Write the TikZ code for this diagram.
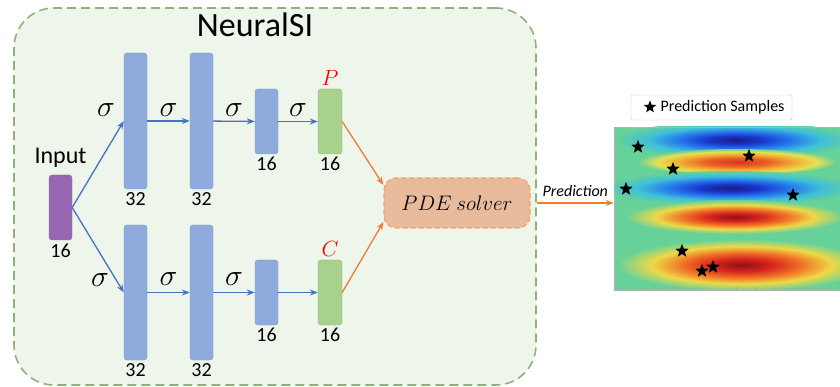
\RequirePackage{fix-cm}
\documentclass[tikz,border=0pt]{standalone}
\usepackage{fontspec}
\setmainfont{Carlito}
\usetikzlibrary{positioning,shapes.geometric,arrows.meta}

\definecolor{framegreen}{HTML}{8FB27A}
\definecolor{framefill}{HTML}{EEF5EA}
\definecolor{layerblue}{HTML}{8FAADC}
\definecolor{layerline}{HTML}{7A97CB}
\definecolor{outgreen}{HTML}{A9D18E}
\definecolor{outline}{HTML}{8DB872}
\definecolor{inpurple}{HTML}{9467B0}
\definecolor{arrblue}{HTML}{4472C4}
\definecolor{arrorange}{HTML}{ED7D31}
\definecolor{pdefill}{HTML}{E8BB9C}
\definecolor{pdeline}{HTML}{F4A062}
\definecolor{heatbg}{rgb}{0.40,0.82,0.60}

\pgfdeclareradialshading{redband}{\pgfpoint{0bp}{0bp}}{rgb(0bp)=(0.55,0.07,0.07); rgb(6bp)=(0.84,0.14,0.12); rgb(12bp)=(0.94,0.45,0.15); rgb(18bp)=(0.93,0.85,0.28); rgb(25bp)=(0.40,0.82,0.60); rgb(50bp)=(0.40,0.82,0.60)}
\pgfdeclareradialshading{orangeband}{\pgfpoint{0bp}{0bp}}{rgb(0bp)=(0.85,0.20,0.12); rgb(8bp)=(0.92,0.38,0.14); rgb(15bp)=(0.94,0.70,0.22); rgb(20bp)=(0.90,0.88,0.32); rgb(25bp)=(0.40,0.82,0.60); rgb(50bp)=(0.40,0.82,0.60)}
\pgfdeclareradialshading{blueband}{\pgfpoint{0bp}{0bp}}{rgb(0bp)=(0.12,0.10,0.50); rgb(6bp)=(0.10,0.22,0.80); rgb(12bp)=(0.15,0.48,0.92); rgb(18bp)=(0.25,0.75,0.85); rgb(25bp)=(0.40,0.82,0.60); rgb(50bp)=(0.40,0.82,0.60)}

\begin{document}
\begin{tikzpicture}[x=1pt,y=-1pt,
    frame/.style={draw=framegreen, fill=framefill, line width=1.6pt, dash pattern=on 9pt off 5pt, rounded corners=40pt, minimum width=522pt, minimum height=377pt},
    layer/.style={draw=layerline, fill=layerblue, rounded corners=3pt, minimum width=23pt, inner sep=0pt},
    outlayer/.style={draw=outline, fill=outgreen, rounded corners=3pt, minimum width=24pt, minimum height=65pt, inner sep=0pt},
    inlayer/.style={draw=inpurple, fill=inpurple, rounded corners=3pt, minimum width=23pt, minimum height=65pt, inner sep=0pt},
    pdebox/.style={draw=pdeline, fill=pdefill, line width=1.2pt, dash pattern=on 5pt off 3pt, rounded corners=12pt, minimum width=146pt, minimum height=50pt, font=\fontsize{21}{21}\selectfont},
    num/.style={font=\fontsize{20}{20}\selectfont, inner sep=1pt},
    sig/.style={font=\fontsize{30}{30}\selectfont, inner sep=0pt},
    outname/.style={font=\fontsize{22}{22}\selectfont, text=red, inner sep=1pt},
    blarrow/.style={draw=arrblue, line width=1.3pt, -{Stealth[length=8pt,width=6pt]}},
    orarrow/.style={draw=arrorange, line width=1.3pt, -{Stealth[length=8pt,width=6pt]}},
    sample/.style={star, star points=5, star point ratio=2.3, fill=black, inner sep=0pt, minimum size=14pt},
  ]
  \useasboundingbox (0,0) rectangle (840,387);

  % network frame
  \node[frame] (frame) at (275,196.5) {};
  \node[font=\fontsize{34}{34}\selectfont] (title) at (255,25) {NeuralSI};

  % input
  \node[inlayer] (in) at (60.5,207.5) {};
  \node[font=\fontsize{24}{24}\selectfont, above=4pt of in] (inlab) {Input};
  \node[num, below=3pt of in] (innum) {16};

  % P branch
  \node[layer, minimum height=136pt] (t1) at (135.5,121) {};
  \node[layer, minimum height=136pt] (t2) at (201.5,121) {};
  \node[layer, minimum height=65pt] (t3) at (266.5,121.5) {};
  \node[outlayer] (tp) at (330,121.5) {};
  \node[num, below=2pt of t1] {32};
  \node[num, below=2pt of t2] {32};
  \node[num, below=2pt of t3] {16};
  \node[num, below=2pt of tp] {16};
  \node[outname, above=2pt of tp] {$P$};

  % C branch
  \node[layer, minimum height=135pt] (b1) at (135.5,292.5) {};
  \node[layer, minimum height=135pt] (b2) at (201.5,292.5) {};
  \node[layer, minimum height=65pt] (b3) at (266.5,292.5) {};
  \node[outlayer] (bc) at (330,292.5) {};
  \node[num, below=2pt of b1] {32};
  \node[num, below=2pt of b2] {32};
  \node[num, below=2pt of b3] {16};
  \node[num, below=2pt of bc] {16};
  \node[outname, above=2pt of bc] {$C$};

  % connections
  \draw[blarrow] (in.east) -- (t1.west);
  \draw[blarrow] (in.east) -- (b1.west);
  \node[sig] at (106,110) {$\sigma$};
  \node[sig] at (100,280) {$\sigma$};
  \draw[blarrow] (t1) -- node[sig, above=4pt] {$\sigma$} (t2);
  \draw[blarrow] (t2) -- node[sig, above=4pt] {$\sigma$} (t3);
  \draw[blarrow] (t3) -- node[sig, above=4pt] {$\sigma$} (tp);
  \draw[blarrow] (b1) -- node[sig, above=6pt] {$\sigma$} (b2);
  \draw[blarrow] (b2) -- node[sig, above=6pt] {$\sigma$} (b3);
  \draw[blarrow] (b3) -- (bc);

  \node[pdebox] (pde) at (457,203) {$PDE\ solver$};
  \draw[orarrow] (tp.east) -- ([yshift=18pt]pde.west);
  \draw[orarrow] (bc.east) -- ([yshift=-19pt]pde.west);

  % prediction map
  \node[draw=gray!60, fill=heatbg, minimum width=226pt, minimum height=163pt, inner sep=0pt] (heat) at (727,208.5) {};
  \begin{scope}
    \clip (heat.south west) rectangle (heat.north east);
    \shade[shading=blueband] (735,140) ellipse (120 and 18);
    \shade[shading=orangeband] (737,162) ellipse (100 and 13);
    \shade[shading=blueband] (730,188) ellipse (128 and 17);
    \shade[shading=redband] (735,217) ellipse (110 and 17);
    \shade[shading=redband] (742,265) ellipse (125 and 26);
  \end{scope}
  \foreach \ty in {137,155,173,191,209,227,245,263,281}
    \draw[gray!70] (614,\ty) -- (617,\ty);
  \foreach \tx in {622,641,660,679,698,717,736,755,774,793,812,831}
    \draw[gray!70] (\tx,290) -- (\tx,287);
  \draw[gray!60] (heat.south west) rectangle (heat.north east);

  \draw[orarrow] (frame.east |- pde) -- node[above=2pt, font=\fontsize{16}{16}\selectfont\itshape] {Prediction} (heat.west |- pde);

  \foreach \sx/\sy [count=\i] in {638/147, 673/169, 749/156, 626/189, 793/195, 682/251, 702/271, 713/267}
    \node[sample] (s\i) at (\sx,\sy) {};

  % legend
  \node[draw=gray!50, rounded corners=2pt, minimum width=161pt, minimum height=25pt, inner sep=0pt] (legend) at (711.5,107.5) {};
  \node[sample, minimum size=13pt] (lstar) at (650,107) {};
  \node[font=\fontsize{16}{16}\selectfont, right=3pt of lstar] (ltext) {Prediction Samples};
\end{tikzpicture}
\end{document}
